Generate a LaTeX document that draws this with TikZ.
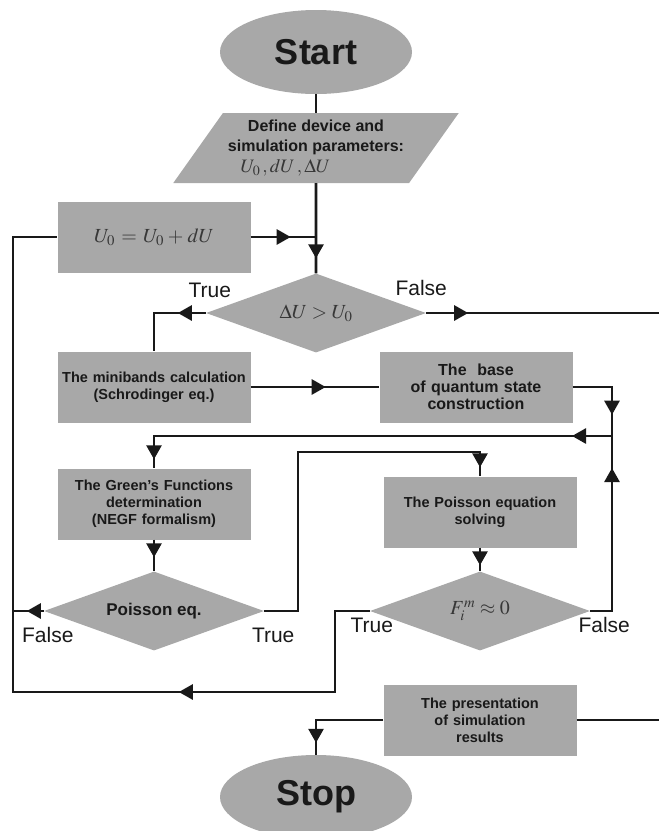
\documentclass[tikz,border=0pt]{standalone}
\usepackage{mathptmx}
\usepackage[no-math]{fontspec}
\setmainfont{Liberation Sans}
\usepackage{xcolor}
\usetikzlibrary{shapes.geometric, arrows.meta, decorations.markings, calc}

\definecolor{boxgray}{RGB}{168,168,168}
\definecolor{ink}{RGB}{25,25,25}
\definecolor{mathink}{RGB}{55,55,55}

\begin{document}
\begin{tikzpicture}[x=1pt, y=-1pt, node distance=100pt]

\tikzstyle{block} = [rectangle, fill=boxgray, minimum width=193pt, minimum height=71pt, text width=185pt, align=center, text=ink, font=\fontsize{14.5}{17}\selectfont\bfseries]
\tikzstyle{decision} = [diamond, aspect=2.8, fill=boxgray, minimum width=220pt, minimum height=79pt, inner sep=0pt, text=ink]
\tikzstyle{term} = [ellipse, fill=boxgray, minimum width=192pt, minimum height=84pt, text=ink, font=\fontsize{36}{40}\selectfont\bfseries]
\tikzstyle{io} = [trapezium, trapezium left angle=50, trapezium right angle=130, trapezium stretches=true, minimum width=286pt, minimum height=70pt, inner sep=0pt, fill=boxgray, align=center, text=ink, font=\fontsize{16}{20}\selectfont\bfseries]
\tikzstyle{lbl} = [text=ink, font=\fontsize{21}{24}\selectfont]
\tikzstyle{line} = [draw=ink, line width=2.7pt]
\tikzset{tipat/.style={postaction={decorate, decoration={markings, mark=at position #1 with {\arrow{Triangle[length=14pt,width=15pt]}}}}}}

\useasboundingbox (0,0) rectangle (659,831);

\node (start) [term] at (316,52) {Start};
\node (param) [io, below of=start, node distance=96pt] {Define device and\\simulation parameters:\\[1pt]\makebox[177pt][l]{\hspace{13pt}\fontsize{19}{20}\selectfont\color{mathink}$U_0\,, dU\,, \Delta U$}};
\node (cond1) [decision, below of=param, node distance=165pt] {\fontsize{20}{22}\selectfont\color{mathink}$\Delta U > U_0$};
\node (upd) [block, left of=cond1, node distance=162pt, yshift=76pt] {\fontsize{20}{22}\selectfont\color{mathink}$U_0 = U_0 + dU$};
\node (minib) [block, below of=upd, node distance=150pt] {The minibands calculation\\(Schrodinger eq.)};
\node (base) [block, right of=minib, node distance=322pt, font=\fontsize{16}{17}\selectfont\bfseries] {The~~base\\of quantum state\\construction};
\node (green) [block, below of=minib, node distance=117pt] {The Green's Functions\\determination\\(NEGF formalism)};
\node (poisd) [decision, below of=green, node distance=107pt, font=\fontsize{17}{18}\selectfont\bfseries] {Poisson eq.};
\node (pe) [block, right of=green, node distance=326pt, yshift=-8pt] {The Poisson equation\\solving};
\node (fd) [decision, below of=pe, node distance=99pt] {\fontsize{20}{22}\selectfont\color{mathink}$F_i^m \approx 0$};
\node (pres) [block, below of=fd, node distance=109pt] {The presentation\\of simulation\\results};
\node (stop) [term, below of=cond1, node distance=484pt] {Stop};

% branch labels
\node (t1) [lbl] at ($(cond1.west)+(4,-23)$) {True};
\node (f1) [lbl] at ($(cond1.east)+(-5,-25)$) {False};
\node (f2) [lbl] at ($(poisd.west)+(4,24)$) {False};
\node (t2) [lbl] at ($(poisd.east)+(9,24)$) {True};
\node (t3) [lbl] at ($(fd.west)+(2,14)$) {True};
\node (f3) [lbl] at ($(fd.east)+(14,14)$) {False};

\coordinate (redge) at (659,313);
\coordinate (jr) at (612,436);
\coordinate (tc) at (298,452);
\coordinate (bl) at (13,692);
\coordinate (br) at (335,692);

\draw [line] (start) -- (param);
\draw [line, tipat=-15pt] (param) -- (cond1);
\draw [line, tipat=40pt] (upd.east) -- (upd.east -| cond1.north);
\draw [line, tipat=28pt] (cond1.west) -| (minib.north);
\draw [line, tipat=42pt] (cond1.east) -- (redge);
\draw [line, tipat=75pt] (minib) -- (base);
\draw [line, tipat=67pt] (base.east) -| (jr);
\draw [line, tipat=40pt, tipat=-9pt] (jr) -| (green.north);
\draw [line, tipat=-14pt] (green) -- (poisd);
\draw [line, tipat=-9pt] (poisd.east) -| (tc) -| (pe.north);
\draw [line, tipat=-6pt] (pe) -- (fd);
\draw [line, tipat=-32pt] (fd.east) -| (jr);
\draw [line, tipat=272pt] (fd.west) -| (br) -- (bl) |- (upd.west);
\draw [line, tipat=17pt] (poisd.west) -- (poisd.west -| bl);
\draw [line] (pres.east) -- (pres.east -| redge);
\draw [line, tipat=-12pt] (pres.west) -| (stop.north);

\end{tikzpicture}
\end{document}
